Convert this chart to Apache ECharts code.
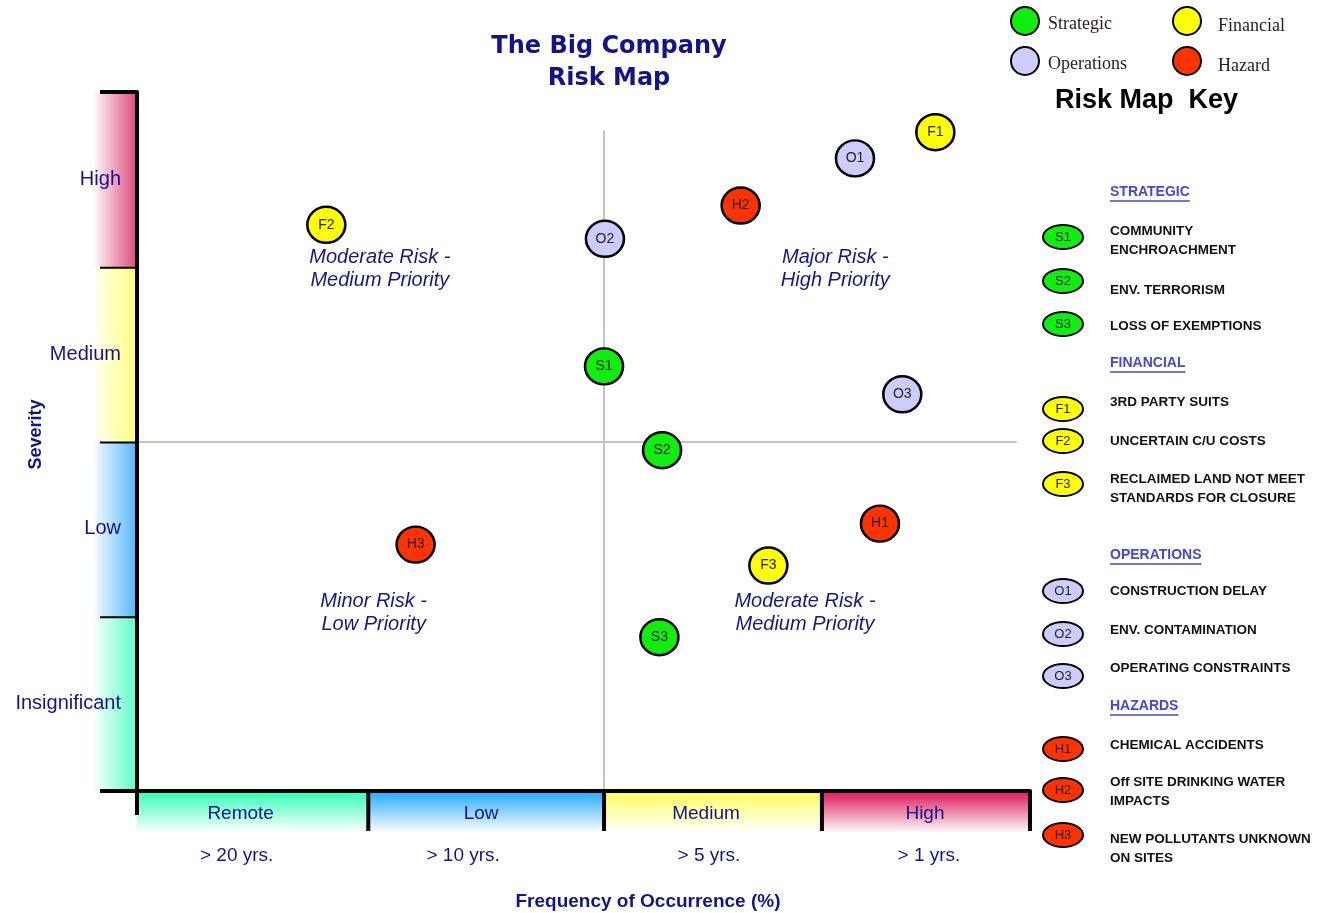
<!DOCTYPE html>
<html>
<head>
<meta charset="utf-8">
<script src="https://cdn.jsdelivr.net/npm/echarts@6/dist/echarts.min.js"></script>
<style>
html,body{margin:0;padding:0;background:#ffffff;}
#chart{width:1324px;height:913px;}
</style>
</head>
<body>
<div id="chart"></div>
<script>
// ---------------- DATA ----------------
const severityLevels = ['Insignificant', 'Low', 'Medium', 'High'];
const frequencyLevels = ['Remote', 'Low', 'Medium', 'High'];
const frequencyPeriods = ['> 20 yrs.', '> 10 yrs.', '> 5 yrs.', '> 1 yrs.'];
const frequencyBounds = [0, 25.9, 52.3, 76.7, 100];

const categories = ['Strategic', 'Financial', 'Operations', 'Hazard'];
const strategicPoints  = [['S1', 52.3, 2.43], ['S2', 58.8, 1.95], ['S3', 58.5, 0.88]];
const financialPoints  = [['F1', 89.4, 3.77], ['F2', 21.2, 3.24], ['F3', 70.7, 1.29]];
const operationsPoints = [['O1', 80.4, 3.62], ['O2', 52.4, 3.16], ['O3', 85.7, 2.27]];
const hazardPoints     = [['H1', 83.2, 1.53], ['H2', 67.6, 3.35], ['H3', 31.2, 1.41]];

const quadrantLabels = [
  ['Moderate Risk -\nMedium Priority', 27.2, 2.99],
  ['Major Risk -\nHigh Priority', 78.2, 2.99],
  ['Minor Risk -\nLow Priority', 26.5, 1.02],
  ['Moderate Risk -\nMedium Priority', 74.8, 1.02]
];
const xDivider = 52.3, yDivider = 2, dividerTop = 3.78, dividerRight = 98.5;

const keySections = ['STRATEGIC', 'FINANCIAL', 'OPERATIONS', 'HAZARDS'];
const strategicKey  = [['S1', 'COMMUNITY\nENCHROACHMENT'], ['S2', 'ENV. TERRORISM'], ['S3', 'LOSS OF EXEMPTIONS']];
const financialKey  = [['F1', '3RD PARTY SUITS'], ['F2', 'UNCERTAIN C/U COSTS'], ['F3', 'RECLAIMED LAND NOT MEET\nSTANDARDS FOR CLOSURE']];
const operationsKey = [['O1', 'CONSTRUCTION DELAY'], ['O2', 'ENV. CONTAMINATION'], ['O3', 'OPERATING CONSTRAINTS']];
const hazardKey     = [['H1', 'CHEMICAL ACCIDENTS'], ['H2', 'Off SITE DRINKING WATER\nIMPACTS'], ['H3', 'NEW POLLUTANTS UNKNOWN\nON SITES']];

// ---------------- STYLE / LAYOUT ----------------
const navy = '#14148a';
const severityColors = ['#5effc6', '#52b8ff', '#ffff7c', '#e04a7a'];
const severityPale = ['#e6fff5', '#e6f3ff', '#ffffe6', '#fbe6ee'];
const frequencyColors = ['#46ffbe', '#38b2ff', '#ffff6e', '#e02a68'];
const categoryColors = ['#10ee10', '#ffff00', '#ccccff', '#ff3300'];
const labelOffsets = [-12, -5, -7, -1];
const periodOffsets = [-16, -23, -4, 3];
const pointGroups = [strategicPoints, financialPoints, operationsPoints, hazardPoints];
const keyGroups = [strategicKey, financialKey, operationsKey, hazardKey];
const keyLayout = {
  headingY: [192, 363, 555, 706],
  ellipseY: [[237, 281, 324], [409, 441, 484], [591, 634, 676], [749, 790, 835]],
  textY:    [[231, 290, 326], [402, 441, 479], [591, 630, 668], [745, 782, 839]]
};
const SANS = '"Liberation Sans", Arial, sans-serif';

const chart = echarts.init(document.getElementById('chart'), null, {renderer: 'canvas'});

const measureCtx = document.createElement('canvas').getContext('2d');
function textWidth(t, font) { measureCtx.font = font; return measureCtx.measureText(t).width; }

// ---- right-hand key (graphic) ----
const graphics = [];
graphics.push({
  type: 'text', x: 1055, y: 101,
  style: {text: 'Risk Map  Key', fontFamily: SANS, fontWeight: 'bold', fontSize: 27,
          fill: '#000', align: 'left', verticalAlign: 'middle', textAlign: 'left', textVerticalAlign: 'middle'}
});
keySections.forEach((sec, s) => {
  const hy = keyLayout.headingY[s];
  const w = textWidth(sec, 'bold 14px "Liberation Sans"');
  graphics.push({
    type: 'text', x: 1110, y: hy,
    style: {text: sec, fontFamily: SANS, fontWeight: 'bold', fontSize: 14, fill: '#4646d6',
            align: 'left', verticalAlign: 'middle', textAlign: 'left', textVerticalAlign: 'middle'}
  });
  graphics.push({type: 'line', shape: {x1: 1110, y1: hy + 9, x2: 1110 + w, y2: hy + 9},
                 style: {stroke: '#4646d6', lineWidth: 1.3}});
  keyGroups[s].forEach((item, k) => {
    const ey = keyLayout.ellipseY[s][k];
    const ty = keyLayout.textY[s][k];
    graphics.push({type: 'ellipse', shape: {cx: 1063, cy: ey, rx: 20, ry: 12},
                   style: {fill: categoryColors[s], stroke: '#000', lineWidth: 2}});
    graphics.push({type: 'text', x: 1063, y: ey,
                   style: {text: item[0], fontFamily: SANS, fontSize: 13, fill: '#222',
                           align: 'center', verticalAlign: 'middle', textAlign: 'center', textVerticalAlign: 'middle'}});
    graphics.push({type: 'text', x: 1110, y: ty - 9.5,
                   style: {text: item[1], fontFamily: SANS, fontWeight: 'bold', fontSize: 13.5, lineHeight: 19,
                           fill: '#111', align: 'left', verticalAlign: 'top', textAlign: 'left', textVerticalAlign: 'top'}});
  });
});

// ---- series ----
const series = [];

// severity band (left)
series.push({
  type: 'custom', name: 'Severity bands', silent: true, z: 1, clip: false,
  data: severityLevels.map((s, i) => [i, i + 1]),
  renderItem: function (params, api) {
    const i = params.dataIndex;
    const lo = api.coord([0, api.value(0)]);
    const hi = api.coord([0, api.value(1)]);
    const x = lo[0];
    const children = [
      {type: 'rect', shape: {x: x - 44, y: hi[1], width: 44, height: lo[1] - hi[1]},
       style: {fill: {type: 'linear', x: 0, y: 0, x2: 1, y2: 0,
               colorStops: [{offset: 0, color: '#ffffff'}, {offset: 0.12, color: severityPale[i]}, {offset: 1, color: severityColors[i]}]}}},
      {type: 'line', shape: {x1: x - 37, y1: hi[1], x2: x, y2: hi[1]}, style: {stroke: '#000', lineWidth: 4}},
      {type: 'text', x: x - 16, y: (lo[1] + hi[1]) / 2,
       style: {text: severityLevels[i], fontFamily: SANS, fontSize: 20, fill: navy,
               align: 'right', verticalAlign: 'middle'}}
    ];
    if (i === 0) {
      children.push({type: 'line', shape: {x1: x - 37, y1: lo[1], x2: x, y2: lo[1]}, style: {stroke: '#000', lineWidth: 4}});
    }
    return {type: 'group', children: children};
  }
});

// frequency band (bottom)
series.push({
  type: 'custom', name: 'Frequency bands', silent: true, z: 1, clip: false,
  data: frequencyLevels.map((f, i) => [frequencyBounds[i], 0, frequencyBounds[i + 1]]),
  renderItem: function (params, api) {
    const i = params.dataIndex;
    const p0 = api.coord([api.value(0), api.value(1)]);
    const p1 = api.coord([api.value(2), api.value(1)]);
    const y = p0[1];
    const cx = (p0[0] + p1[0]) / 2;
    const children = [
      {type: 'rect', shape: {x: p0[0], y: y, width: p1[0] - p0[0], height: 42},
       style: {fill: {type: 'linear', x: 0, y: 0, x2: 0, y2: 1,
               colorStops: [{offset: 0, color: frequencyColors[i]}, {offset: 0.1, color: frequencyColors[i]}, {offset: 1, color: '#ffffff'}]}}},
      {type: 'line', shape: {x1: p0[0], y1: y, x2: p0[0], y2: y + (i === 0 ? 24 : 40)}, style: {stroke: '#000', lineWidth: 4}},
      {type: 'text', x: cx + labelOffsets[i], y: y + 23,
       style: {text: frequencyLevels[i], fontFamily: SANS, fontSize: 19, fill: navy, align: 'center', verticalAlign: 'middle'}},
      {type: 'text', x: cx + periodOffsets[i], y: y + 65,
       style: {text: frequencyPeriods[i], fontFamily: SANS, fontSize: 19, fill: navy, align: 'center', verticalAlign: 'middle'}}
    ];
    if (i === frequencyLevels.length - 1) {
      children.push({type: 'line', shape: {x1: p1[0], y1: y, x2: p1[0], y2: y + 40}, style: {stroke: '#000', lineWidth: 4}});
    }
    return {type: 'group', children: children};
  }
});

// quadrant labels + dividers
series.push({
  type: 'scatter', name: 'Quadrants', silent: true, z: 1, symbolSize: 0,
  itemStyle: {opacity: 1},
  data: quadrantLabels.map(q => ({name: q[0], value: [q[1], q[2]]})),
  label: {show: true, position: 'inside', formatter: '{b}', fontFamily: SANS, fontStyle: 'italic',
          fontSize: 20, lineHeight: 23, color: '#161688', opacity: 1},
  labelLayout: {hideOverlap: false},
  markLine: {
    silent: true, z: 1, symbol: ['none', 'none'], label: {show: false},
    lineStyle: {color: '#c4c4c4', width: 2, type: 'solid', opacity: 1},
    emphasis: {disabled: true},
    data: [
      [{coord: [xDivider, 0]}, {coord: [xDivider, dividerTop]}],
      [{coord: [0, yDivider]}, {coord: [dividerRight, yDivider]}]
    ]
  }
});

// risk points
categories.forEach((cat, c) => {
  series.push({
    type: 'scatter', name: cat, z: 10,
    symbol: 'circle', symbolSize: [38, 36],
    itemStyle: {color: categoryColors[c], borderColor: '#000', borderWidth: 2.5, opacity: 1},
    label: {show: true, position: 'inside', formatter: '{b}', fontFamily: SANS, fontSize: 14, color: '#222'},
    emphasis: {disabled: true},
    data: pointGroups[c].map(p => ({name: p[0], value: [p[1], p[2]]}))
  });
});

const legendText = {fontFamily: '"Liberation Serif", "Times New Roman", serif', fontSize: 18, color: '#2a2020'};
const legendCommon = {
  orient: 'vertical', icon: 'circle', itemWidth: 28, itemHeight: 28, itemGap: 10,
  selectedMode: false, padding: 0
};

const option = {
  backgroundColor: '#ffffff',
  animation: false,
  title: {
    text: 'The Big Company\nRisk Map',
    left: 609, top: 31, padding: 0, textAlign: 'center',
    textStyle: {fontFamily: '"DejaVu Sans", Verdana, sans-serif', fontWeight: 'bold', fontSize: 24,
                lineHeight: 32, color: navy}
  },
  legend: [
    Object.assign({}, legendCommon, {data: ['Strategic', 'Operations'], left: 1010, top: 6,
      formatter: '{a|{name}}',
      textStyle: Object.assign({}, legendText, {rich: {a: Object.assign({}, legendText, {padding: [6, 0, 0, 4]})}})}),
    Object.assign({}, legendCommon, {data: ['Financial', 'Hazard'], left: 1172, top: 6,
      formatter: '{a|{name}}',
      textStyle: Object.assign({}, legendText, {rich: {a: Object.assign({}, legendText, {padding: [10, 0, 0, 12]})}})})
  ],
  grid: {left: 137, top: 92, right: 294, bottom: 122, containLabel: false, outerBoundsMode: 'none'},
  xAxis: {
    type: 'value', min: 0, max: 100, z: 6,
    name: 'Frequency of Occurrence (%)', nameLocation: 'middle', nameGap: 101,
    nameTextStyle: {fontFamily: SANS, fontWeight: 'bold', fontSize: 19, color: navy, padding: [0, 0, 0, 129]},
    axisLine: {show: true, onZero: false, lineStyle: {color: '#000', width: 4}},
    axisTick: {show: false}, axisLabel: {show: false}, splitLine: {show: false}
  },
  yAxis: {
    type: 'value', min: 0, max: 4, z: 6,
    name: 'Severity', nameLocation: 'middle', nameGap: 92, nameRotate: 90,
    nameTextStyle: {fontFamily: SANS, fontWeight: 'bold', fontSize: 18, color: navy, padding: [0, 0, 0, 14]},
    axisLine: {show: true, onZero: false, lineStyle: {color: '#000', width: 4}},
    axisTick: {show: false}, axisLabel: {show: false}, splitLine: {show: false}
  },
  graphic: graphics,
  series: series
};
chart.setOption(option);
</script>
</body>
</html>
